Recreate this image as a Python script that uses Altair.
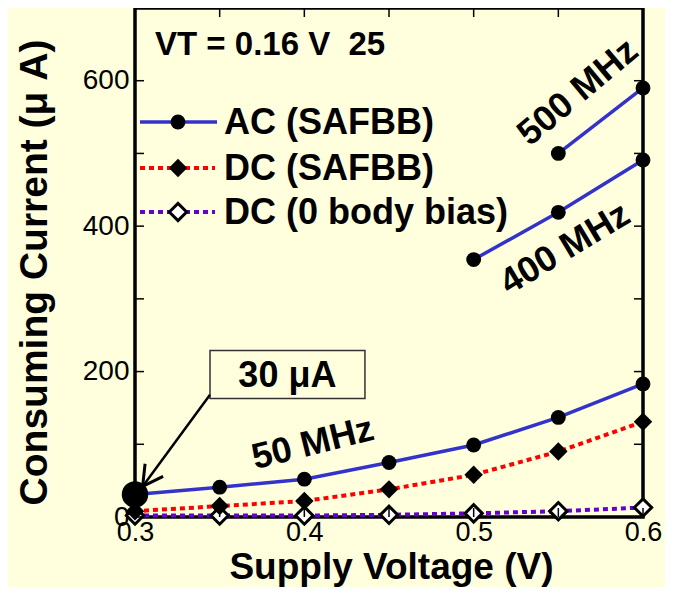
import altair as alt
import pandas as pd

# ---- data ----
voltage = [0.30, 0.35, 0.40, 0.45, 0.50, 0.55, 0.60]
ac_50mhz = [31, 41, 52, 75, 99, 137, 183]
dc_safbb = [8, 15, 22, 38, 58, 90, 131]
dc_0bb = [2, 2, 2, 3, 5, 8, 13]
voltage_400 = [0.50, 0.55, 0.60]
ac_400mhz = [354, 419, 491]
voltage_500 = [0.55, 0.60]
ac_500mhz = [500, 590]

x_tick_labels = [0.3, 0.4, 0.5, 0.6]
y_tick_labels = [0, 200, 400, 600]
x_minor_ticks = [0.30, 0.35, 0.40, 0.45, 0.50, 0.55, 0.60]
y_minor_ticks = [0, 100, 200, 300, 400, 500, 600, 700]

legend_labels = ["AC (SAFBB)", "DC (SAFBB)", "DC (0 body bias)"]
freq_labels = ["500 MHz", "400 MHz", "50 MHz"]
freq_label_v = [0.5616, 0.554, 0.405]
freq_label_c = [584, 369, 101]
freq_label_angle = [320, 329, 346]

callout_text = "30 μA"
callout_box_v = [0.3443, 0.4358]
callout_box_c = [163, 229]
callout_text_pos = (0.390, 194)
arrow_from = (0.3443, 168)
arrow_to = (0.3045, 42)
info_text = "VT = 0.16 V\u00a0\u00a025"

W, H = 508, 509
BG = "#FFFFDD"
BLUE = "#3333CC"
RED = "#FF0000"
PURPLE = "#6600CC"
FONT = "Liberation Sans"
NARROW = "Liberation Sans Narrow, Liberation Sans"

xscale = alt.Scale(domain=[0.3, 0.6], nice=False, zero=False)
yscale = alt.Scale(domain=[0, 700], nice=False)

x_axis = alt.Axis(values=x_tick_labels, format=".1f", title="Supply Voltage (V)",
                  tickSize=0, domain=False, grid=False, labelFont=NARROW,
                  labelFontSize=27, labelPadding=2, labelColor="black",
                  labelFlush=False, titleFont=FONT, titleFontSize=37,
                  titleFontWeight="bold", titleColor="black", titleX=256,
                  titleY=50, titleBaseline="middle", titleAlign="center")
y_axis = alt.Axis(values=y_tick_labels, format="d", title="Consuming Current (μ A)",
                  tickSize=0, domain=False, grid=False, labelFont=NARROW,
                  labelFontSize=28, labelPadding=6, labelColor="black",
                  labelFlush=False, labelBaseline="middle",
                  titleFont=FONT, titleFontSize=39,
                  titleFontWeight="bold", titleColor="black", titleX=-101,
                  titleY=264, titleAngle=270, titleBaseline="middle",
                  titleAlign="center")

X = alt.X("v:Q", scale=xscale, axis=x_axis)
Y = alt.Y("c:Q", scale=yscale, axis=y_axis)
Xn = alt.X("v:Q", scale=xscale)
Yn = alt.Y("c:Q", scale=yscale)

ac50 = pd.DataFrame({"v": voltage, "c": ac_50mhz})
dcs = pd.DataFrame({"v": voltage, "c": dc_safbb})
dc0 = pd.DataFrame({"v": voltage, "c": dc_0bb})
ac400 = pd.DataFrame({"v": voltage_400, "c": ac_400mhz})
ac500 = pd.DataFrame({"v": voltage_500, "c": ac_500mhz})

layers = []
# lines
layers.append(alt.Chart(ac50).mark_line(color=BLUE, strokeWidth=3.5).encode(x=X, y=Y))
layers.append(alt.Chart(dcs).mark_line(color=RED, strokeWidth=4, strokeDash=[5, 4]).encode(x=Xn, y=Yn))
layers.append(alt.Chart(dc0).mark_line(color=PURPLE, strokeWidth=4, strokeDash=[5, 4]).encode(x=Xn, y=Yn))
layers.append(alt.Chart(ac400).mark_line(color=BLUE, strokeWidth=3.5).encode(x=Xn, y=Yn))
layers.append(alt.Chart(ac500).mark_line(color=BLUE, strokeWidth=3.5).encode(x=Xn, y=Yn))

# markers
layers.append(alt.Chart(dc0).mark_point(shape="diamond", filled=True, fill="white",
                                        stroke="black", strokeWidth=3, size=300, opacity=1)
              .encode(x=Xn, y=Yn))
layers.append(alt.Chart(dcs).mark_point(shape="diamond", filled=True, color="black",
                                        size=340, opacity=1).encode(x=Xn, y=Yn))
for df in (ac50, ac400, ac500):
    layers.append(alt.Chart(df).mark_point(shape="circle", filled=True, color="black",
                                           size=220, opacity=1).encode(x=Xn, y=Yn))
big = pd.DataFrame({"v": [voltage[0]], "c": [ac_50mhz[0]]})
layers.append(alt.Chart(big).mark_point(shape="circle", filled=True, color="black",
                                        size=700, opacity=1).encode(x=Xn, y=Yn))

# inward ticks
xt = pd.DataFrame({"v": x_minor_ticks})
yt = pd.DataFrame({"c": y_minor_ticks})
layers.append(alt.Chart(xt).mark_rule(color="black", strokeWidth=1.5)
              .encode(x=Xn, y=alt.value(0), y2=alt.value(9)))
layers.append(alt.Chart(xt).mark_rule(color="black", strokeWidth=1.5)
              .encode(x=Xn, y=alt.value(H), y2=alt.value(H - 9)))
layers.append(alt.Chart(yt).mark_rule(color="black", strokeWidth=1.5)
              .encode(y=Yn, x=alt.value(0), x2=alt.value(9)))
layers.append(alt.Chart(yt).mark_rule(color="black", strokeWidth=1.5)
              .encode(y=Yn, x=alt.value(W), x2=alt.value(W - 9)))

# frequency labels
fl = pd.DataFrame({"v": freq_label_v, "c": freq_label_c, "t": freq_labels})
for i in range(len(freq_labels)):
    layers.append(alt.Chart(fl.iloc[[i]]).mark_text(font=FONT, fontSize=36, fontWeight="bold",
                                                  color="black", angle=int(freq_label_angle[i]),
                                                  align="center", baseline="middle")
                  .encode(x=Xn, y=Yn, text="t:N"))

# callout box + arrow
box = pd.DataFrame({"v": [callout_box_v[0]], "v2": [callout_box_v[1]],
                    "c": [callout_box_c[0]], "c2": [callout_box_c[1]]})
layers.append(alt.Chart(box).mark_rect(fill=BG, stroke="#333333", strokeWidth=1.5)
              .encode(x=Xn, x2="v2:Q", y=Yn, y2="c2:Q"))
ct = pd.DataFrame({"v": [callout_text_pos[0]], "c": [callout_text_pos[1]], "t": [callout_text]})
layers.append(alt.Chart(ct).mark_text(font=NARROW, fontSize=36, fontWeight="bold",
                                      color="black", align="center", baseline="middle")
              .encode(x=Xn, y=Yn, text="t:N"))
arr = pd.DataFrame({"v": [arrow_from[0]], "c": [arrow_from[1]],
                    "v2": [arrow_to[0]], "c2": [arrow_to[1]]})
layers.append(alt.Chart(arr).mark_rule(color="black", strokeWidth=2.5)
              .encode(x=Xn, y=Yn, x2="v2:Q", y2="c2:Q"))
head = pd.DataFrame({"v": [arrow_to[0]], "c": [arrow_to[1]]})
layers.append(alt.Chart(head).mark_point(shape="M-0.55,1L0,0L0.55,1", filled=False,
                                         stroke="black", strokeWidth=3, size=1600,
                                         angle=215, opacity=1)
              .encode(x=Xn, y=Yn))

# info text
layers.append(alt.Chart(pd.DataFrame({"t": [info_text]})).mark_text(
    font=NARROW, fontSize=33, fontWeight="bold", color="black", align="left",
    baseline="middle").encode(x=alt.value(20), y=alt.value(37), text="t:N"))

# manual legend
leg_y = [114, 160, 204]
layers.append(alt.Chart(pd.DataFrame({"t": ["a"]})).mark_rule(color=BLUE, strokeWidth=3.5)
              .encode(x=alt.value(5), x2=alt.value(82), y=alt.value(leg_y[0])))
layers.append(alt.Chart(pd.DataFrame({"t": ["b"]})).mark_rule(color=RED, strokeWidth=4, strokeDash=[5, 4])
              .encode(x=alt.value(5), x2=alt.value(80), y=alt.value(leg_y[1])))
layers.append(alt.Chart(pd.DataFrame({"t": ["c"]})).mark_rule(color=PURPLE, strokeWidth=4, strokeDash=[5, 4])
              .encode(x=alt.value(5), x2=alt.value(80), y=alt.value(leg_y[2])))
layers.append(alt.Chart(pd.DataFrame({"t": ["a"]})).mark_point(shape="circle", filled=True, color="black",
                                                              size=220, opacity=1)
              .encode(x=alt.value(43), y=alt.value(leg_y[0])))
layers.append(alt.Chart(pd.DataFrame({"t": ["b"]})).mark_point(shape="diamond", filled=True, color="black",
                                                              size=340, opacity=1)
              .encode(x=alt.value(43), y=alt.value(leg_y[1])))
layers.append(alt.Chart(pd.DataFrame({"t": ["c"]})).mark_point(shape="diamond", filled=True, fill="white",
                                                              stroke="black", strokeWidth=3, size=300, opacity=1)
              .encode(x=alt.value(43), y=alt.value(leg_y[2])))
for i, lab in enumerate(legend_labels):
    layers.append(alt.Chart(pd.DataFrame({"t": [lab]})).mark_text(
        font=FONT, fontSize=36, fontWeight="bold", color="black", align="left",
        baseline="middle").encode(x=alt.value(89), y=alt.value(leg_y[i] + 1), text="t:N"))

chart = alt.layer(*layers).properties(
    width=W, height=H, background=BG,
    autosize=alt.AutoSizeParams(type="none"),
    padding={"left": 127, "top": 0, "right": 22, "bottom": 70},
).configure_view(stroke="black", strokeWidth=3.5, fill=BG)

chart.save("out.html", embed_options={"renderer": "svg", "actions": False})
